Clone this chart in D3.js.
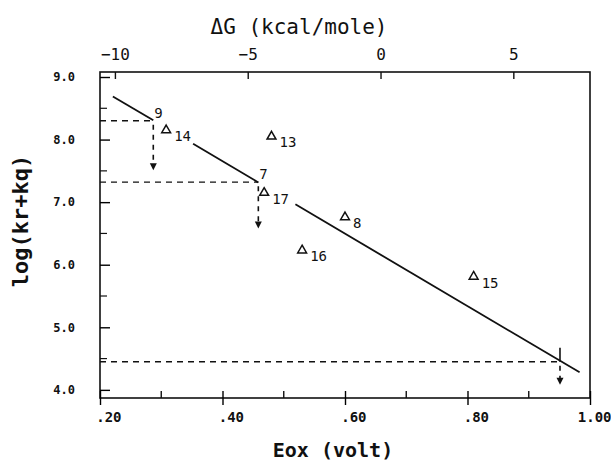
<!DOCTYPE html>
<html>
<head>
<meta charset="utf-8">
<script src="https://cdn.jsdelivr.net/npm/d3@7"></script>
<style>
  body { margin: 0; background: #fff; }
  svg text { font-family: "DejaVu Sans Mono", monospace; fill: #111; }
</style>
</head>
<body>
<svg id="chart" width="611" height="461"></svg>
<script>
// measured compounds (triangles)
const pointIds = ["14", "13", "17", "16", "8", "15"];
const pointEox = [0.308, 0.480, 0.468, 0.530, 0.600, 0.810];
const pointLog = [8.15, 8.05, 7.15, 6.23, 6.76, 5.81];

// upper-limit compounds (dashed guides + arrow)
const limitIds = ["9", "7", ""];
const limitEox = [0.287, 0.4585, 0.951];
const limitLog = [8.30, 7.32, 4.45];
const limitArrowTo = [7.51, 6.58, 4.08];

// fitted line, with gaps where labels sit
const fitEox = [0.221, 0.983];
const fitLog = [8.69, 4.28];
const fitGaps = [[0.287, 0.352], [0.4585, 0.519]];

const eoxTicks = [0.2, 0.4, 0.6, 0.8, 1.0];
const eoxMinor = [0.3, 0.5, 0.7, 0.9];
const eoxTickLabels = [".20", ".40", ".60", ".80", "1.00"];
const logTicks = [4, 5, 6, 7, 8, 9];
const logMinor = [4.5, 5.5, 6.5, 7.5, 8.5];
const dgTicks = [-10, -5, 0, 5];

const eV = 23.06;      // kcal/mole per volt
const eZero = 0.658;   // Eox where dG = 0

const svg = d3.select("#chart");
const margin = { top: 72, right: 21, bottom: 63, left: 100 };
const W = 611 - margin.left - margin.right;
const H = 461 - margin.top - margin.bottom;

const x = d3.scaleLinear().domain([0.2, 1.0]).range([0, W]);
const y = d3.scaleLinear().domain([3.87, 9.08]).range([H, 0]);
const dg = d3.scaleLinear()
  .domain([(0.2 - eZero) * eV, (1.0 - eZero) * eV])
  .range([0, W]);

const g = svg.append("g").attr("transform", `translate(${margin.left},${margin.top})`);

// frame
g.append("rect").attr("width", W).attr("height", H)
  .attr("fill", "none").attr("stroke", "#111").attr("stroke-width", 1.6);

// bottom axis: major ticks cross the frame, minor go inward
const xAxisG = g.append("g").attr("transform", `translate(0,${H})`);
xAxisG.call(d3.axisBottom(x).tickValues(eoxTicks).tickSize(7).tickFormat((d, i) => eoxTickLabels[i]));
xAxisG.call(a => a.select(".domain").remove());
xAxisG.selectAll(".tick line").attr("y1", -7).attr("stroke-width", 1.4);
xAxisG.selectAll(".tick text")
  .attr("text-anchor", "end").attr("x", 21).attr("y", 14).attr("dy", "0.71em")
  .style("font-size", "14px").style("font-weight", "bold");
xAxisG.selectAll(".minor").data(eoxMinor).join("line").attr("class", "minor")
  .attr("x1", d => x(d)).attr("x2", d => x(d)).attr("y1", 0).attr("y2", -7)
  .attr("stroke", "#111").attr("stroke-width", 1.4);

// left axis
const yAxisG = g.append("g");
yAxisG.call(d3.axisLeft(y).tickValues(logTicks).tickSize(10).tickFormat(d3.format(".1f")));
yAxisG.call(a => a.select(".domain").remove());
yAxisG.selectAll(".tick line").attr("x2", 10).attr("stroke-width", 1.4);
yAxisG.selectAll(".tick text").attr("x", -25)
  .style("font-size", "12px").style("font-weight", "bold");
yAxisG.selectAll(".minor").data(logMinor).join("line").attr("class", "minor")
  .attr("y1", d => y(d)).attr("y2", d => y(d)).attr("x1", 0).attr("x2", 7)
  .attr("stroke", "#111").attr("stroke-width", 1.2);

// top axis: dG in kcal/mole
const dgAxisG = g.append("g");
dgAxisG.call(d3.axisTop(dg).tickValues(dgTicks).tickSize(0).tickPadding(12).tickFormat(d3.format("d")));
dgAxisG.call(a => a.select(".domain").remove());
dgAxisG.selectAll(".tick line").attr("y2", 7).attr("stroke", "#111").attr("stroke-width", 1.4);
dgAxisG.selectAll(".tick text").style("font-size", "16px");

// fitted line pieces
const cuts = [fitEox[0]].concat(...fitGaps, [fitEox[1]]);
const fitAt = e => fitLog[0] + (e - fitEox[0]) * (fitLog[1] - fitLog[0]) / (fitEox[1] - fitEox[0]);
const pieces = d3.range(0, cuts.length, 2).map(i => [cuts[i], cuts[i + 1]]);
g.selectAll(".fit").data(pieces).join("line").attr("class", "fit")
  .attr("x1", d => x(d[0])).attr("y1", d => y(fitAt(d[0])))
  .attr("x2", d => x(d[1])).attr("y2", d => y(fitAt(d[1])))
  .attr("stroke", "#111").attr("stroke-width", 1.8);

// upper limits: dashed horizontal from axis, dashed drop with arrow
const limits = limitIds.map((id, i) => ({ id, e: limitEox[i], v: limitLog[i], to: limitArrowTo[i] }));
const lim = g.selectAll(".limit").data(limits).join("g").attr("class", "limit");
lim.append("line")
  .attr("x1", x(0.2)).attr("x2", d => x(d.e))
  .attr("y1", d => y(d.v)).attr("y2", d => y(d.v))
  .attr("stroke", "#111").attr("stroke-width", 1.4).attr("stroke-dasharray", "6,5");
lim.append("line")
  .attr("x1", d => x(d.e)).attr("x2", d => x(d.e))
  .attr("y1", d => y(d.v) + 4).attr("y2", d => y(d.to) - 6)
  .attr("stroke", "#111").attr("stroke-width", 1.6).attr("stroke-dasharray", "5,5");
lim.append("path")
  .attr("d", d => `M${x(d.e) - 3.5},${y(d.to) - 7}L${x(d.e) + 3.5},${y(d.to) - 7}L${x(d.e)},${y(d.to)}Z`)
  .attr("fill", "#111");
lim.append("text")
  .attr("x", d => x(d.e) + 1).attr("y", d => y(d.v) - 3)
  .style("font-size", "14px").text(d => d.id);
// the last limit has a short solid mark above the crossing
lim.filter(d => d.id === "")
  .append("line")
  .attr("x1", d => x(d.e)).attr("x2", d => x(d.e))
  .attr("y1", d => y(d.v) - 14).attr("y2", d => y(d.v))
  .attr("stroke", "#111").attr("stroke-width", 1.6);

// measured points
const pts = pointIds.map((id, i) => ({ id, e: pointEox[i], v: pointLog[i] }));
const tri = d3.symbol().type(d3.symbolTriangle).size(34);
const pg = g.selectAll(".pt").data(pts).join("g").attr("class", "pt")
  .attr("transform", d => `translate(${x(d.e)},${y(d.v)})`);
pg.append("path").attr("d", tri).attr("fill", "none")
  .attr("stroke", "#111").attr("stroke-width", 1.5);
pg.append("text").attr("x", 8).attr("y", 11)
  .style("font-size", "14px").text(d => d.id);

// axis titles
svg.append("text").attr("x", 299).attr("y", 34).attr("text-anchor", "middle")
  .style("font-size", "21px").text("ΔG  (kcal/mole)");
svg.append("text").attr("x", 333).attr("y", 457).attr("text-anchor", "middle")
  .style("font-size", "20px").style("font-weight", "bold").text("Eox (volt)");
svg.append("text")
  .attr("transform", `translate(28,${margin.top + y(6.7)}) rotate(-90)`)
  .attr("text-anchor", "middle")
  .style("font-size", "22px").style("font-weight", "bold").text("log(kr+kq)");
</script>
</body>
</html>
